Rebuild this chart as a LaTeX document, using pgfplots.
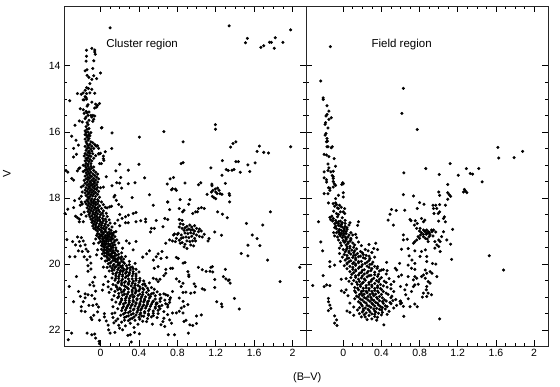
\documentclass[border=0pt]{standalone}
\usepackage{fontspec}
\setmainfont{Liberation Sans}
\usepackage{pgfplots}
\pgfplotsset{compat=1.18}
\pgfplotsset{cmd/.style={
  scale only axis, width=242pt, height=340pt,
  y dir=reverse, ymin=12.19, ymax=22.48,
  xtick={0,0.4,0.8,1.2,1.6,2}, ytick={14,16,18,20,22},
  minor x tick num=3, minor y tick num=3,
  tick align=inside, xtick pos=both, ytick pos=both,
  major tick length=6pt, minor tick length=3pt,
  tick style={black,line width=0.7pt}, axis line style={line width=0.8pt,black!85},
  /pgf/number format/assume math mode=true,
  tick label style={font=\fontsize{10.5}{12}\selectfont},
  label style={font=\fontsize{11}{13}\selectfont},
  clip=false,
}}
\begin{document}
\begin{tikzpicture}[x=1pt,y=1pt]
\path[use as bounding box] (0,0) rectangle (560,386);
\begin{axis}[cmd, at={(64pt,40pt)}, anchor=south west, xmin=-0.38, xmax=2.14,
  ylabel={V}, ylabel style={at={(axis description cs:-0.236,0.505)},anchor=center},
  xlabel={(B--V)}, xlabel style={at={(axis description cs:1.005,-0.094)},anchor=center}]
\addplot[only marks,mark=*,mark size=1.35pt,black] coordinates {
(.10,12.85)(1.34,12.79)(1.98,12.91)(1.53,13.17)(1.51,13.30)(1.82,13.15)(1.76,13.29)(1.78,13.29)(1.90,13.29)(1.70,13.39)(1.67,13.44)(1.81,13.47)
(-.09,13.47)(-.145,13.53)(-.06,13.52)(-.055,13.65)(-.06,13.58)(-.145,13.71)(-.15,13.86)(-.07,13.85)(-.08,14.08)(-.16,14.15)(-.14,14.12)(0,14.22)(-.14,14.29)(-.12,14.35)(-.07,14.3)(-.04,14.39)(-.09,14.41)(-.11,14.54)(-.145,14.66)(-.16,14.74)(-.125,14.69)(-.09,14.71)(-.24,14.84)(-.2,14.86)(-.18,14.82)(-.145,14.84)(-.11,14.82)(-.06,14.83)(-.16,14.93)(-.18,15.03)(-.145,15.01)(-.09,15.1)(-.32,15.06)(-.15,14.96)(-.17,15.03)(-.13,15.18)(-.14,15.22)(-.05,15.16)(-.01,15.14)(-.03,15.2)(-.04,15.25)(-.06,15.28)(-.21,15.3)(-.18,15.33)(-.15,15.38)(-.14,15.42)(-.17,15.44)(-.12,15.4)
(-.1,15.5)(-.08,15.5)(-.06,15.52)(-.09,15.55)(-.13,15.5)(-.15,15.55)(-.16,15.6)(-.22,15.67)(-.19,15.7)(-.07,15.62)(-.08,15.68)(-.12,15.65)(-.14,15.72)(-.13,15.78)(-.15,15.84)(-.265,15.8)(.015,15.87)(-.14,15.92)(-.12,15.9)(-.16,15.97)(-.13,16.0)(-.15,16.02)(-.1,16.02)(.12,16.03)(-.12,16.07)(-.16,16.08)(-.13,16.12)
(-.15,16.1)(-.11,16.12)(-.14,16.16)(-.12,16.2)(-.16,16.22)(-.13,16.25)(-.15,16.3)(-.1,16.3)(-.08,16.33)(-.14,16.36)(-.11,16.38)(-.06,16.38)(-.13,16.42)(-.16,16.44)(-.09,16.44)(-.05,16.42)(-.03,16.42)(-.12,16.48)(-.14,16.5)(-.1,16.52)(-.07,16.5)(-.02,16.5)(-.15,16.56)(-.12,16.58)(-.09,16.58)(-.13,16.62)(-.16,16.66)(-.11,16.65)(-.08,16.66)(-.14,16.7)(-.12,16.72)(-.17,16.73)(-.1,16.74)(-.13,16.78)(-.15,16.8)(-.07,16.8)(-.11,16.83)(-.14,16.86)(-.09,16.88)(-.16,16.88)(-.12,16.9)(-.15,16.95)(-.1,16.96)(-.13,16.98)(-.05,16.72)(-.02,16.66)(0,16.65)
(.405,16.16)(.66,15.99)(1.197,15.78)(1.197,15.92)(.86,16.3)(.117,16.5)(.4,16.98)(.2,16.98)(.16,17.18)(.29,17.16)(.06,17.36)(.46,17.39)(.21,17.38)(.17,17.54)(.2,17.55)(.29,17.57)(.36,17.54)(.12,17.63)(.22,17.7)(.86,16.93)(.84,16.96)(1.15,17.09)(1.27,16.87)(1.41,16.3)(1.38,16.35)(1.355,16.46)(1.655,16.43)(1.63,16.59)(1.70,16.62)(1.75,16.64)(1.98,16.45)(1.41,16.9)(1.435,16.9)(1.535,17.0)(1.61,16.94)(1.555,17.2)(1.31,17.14)(1.33,17.17)(1.37,17.16)(1.39,17.14)(1.455,17.22)(1.265,17.31)(1.30,17.56)(1.16,17.58)(1.16,17.63)(1.045,17.54)(1.02,17.6)(.76,17.38)(.725,17.42)(.695,17.58)(.88,17.55)(.75,17.72)(.78,17.73)(1.195,17.73)(1.22,17.7)
(-.36,17.17)(-.34,17.22)(-.3,17.41)(-.28,17.46)(-.2,17.67)(-.24,17.18)(-.215,17.09)(-.225,17.11)(-.18,17.01)(-.18,17.2)(-.25,16.68)(-.28,16.5)(-.255,16.25)(-.3,16.13)(-.23,16.4)(-.28,16.76)(.01,15.88)(.03,16.73)(.03,16.81)(.035,16.86)(.01,16.96)(-.01,16.96)(-.015,16.67)(-.04,16.43)(.05,16.6)
(-.16,17.02)(-.13,17.03)(-.1,17.04)(-.07,17.06)(-.15,17.08)(-.12,17.1)(-.09,17.1)(-.14,17.14)(-.11,17.15)(-.16,17.16)(-.07,17.17)(-.13,17.2)(-.1,17.22)(-.05,17.22)(-.15,17.24)(-.12,17.26)(-.08,17.27)(-.03,17.28)(-.14,17.3)(-.11,17.32)(-.06,17.32)(-.16,17.34)(-.09,17.35)(-.13,17.37)(-.04,17.37)(-.11,17.4)(-.07,17.41)(-.15,17.42)(-.02,17.42)(-.13,17.45)(-.09,17.46)(-.05,17.46)(-.17,17.47)(-.11,17.5)(-.07,17.5)(-.14,17.52)(-.03,17.52)(-.1,17.54)(-.06,17.55)(-.16,17.56)(-.12,17.58)(-.08,17.59)(-.04,17.6)(-.14,17.61)(-.1,17.62)(-.06,17.64)(-.18,17.63)(-.12,17.66)(-.08,17.67)(-.15,17.69)(-.03,17.68)(0,17.69)(.03,17.67)(-.11,17.7)(-.06,17.71)(-.13,17.73)(-.09,17.75)(-.16,17.76)(-.04,17.75)(-.11,17.78)(-.07,17.79)(-.14,17.8)(-.02,17.8)(-.09,17.83)(-.12,17.84)(-.05,17.84)(-.16,17.85)(-.19,17.82)(-.07,17.88)(-.13,17.89)(-.1,17.9)(-.03,17.89)(-.15,17.93)(-.08,17.94)(-.11,17.96)(-.05,17.95)(-.2,17.95)(-.13,17.98)(-.01,17.98)
(.33,17.99)(.51,17.9)(.55,18.22)(.70,18.12)(.37,18.44)(.34,18.47)(.29,18.52)(.26,18.57)(.15,17.92)(.14,17.97)(.165,18.07)(.19,18.2)(.22,18.27)(.115,18.25)(.07,18.3)(.095,18.27)(.2,18.5)(.47,18.64)(.42,18.69)(.47,18.72)(.58,18.68)(.37,18.72)(.29,18.75)(.26,18.75)(.18,18.67)(.15,18.77)(.2,18.84)(.225,18.62)(.52,19.03)(.56,18.92)(.65,18.87)(.70,18.65)(.53,18.92)
(-.34,18.34)(-.28,18.29)(-.37,18.47)(-.22,18.02)(-.27,18.08)(-.2,18.12)(-.21,18.22)(-.19,18.18)(-.26,18.55)(-.24,18.6)(-.22,18.64)(-.2,18.5)(-.17,18.43)(-.15,18.55)(-.22,18.72)(-.18,18.72)
(-.12,18.02)(-.09,18.03)(-.06,18.04)(-.03,18.05)(-.14,18.06)(-.1,18.08)(-.07,18.09)(-.02,18.1)(-.13,18.11)(-.16,18.12)(-.09,18.13)(-.05,18.13)(.01,18.12)(-.12,18.16)(-.07,18.17)(-.03,18.18)(-.15,18.18)(-.1,18.2)(-.05,18.21)(.03,18.2)(-.13,18.23)(-.08,18.24)(-.01,18.24)(-.11,18.27)(-.06,18.28)(-.03,18.29)(.05,18.28)(-.14,18.3)(-.09,18.31)(-.05,18.32)(.01,18.32)(-.12,18.34)(-.07,18.36)(-.02,18.36)(-.1,18.38)(-.04,18.39)(.03,18.39)(-.13,18.41)(-.08,18.42)(-.01,18.42)(-.05,18.44)(-.11,18.45)(.02,18.46)(-.08,18.48)(-.03,18.48)(.06,18.46)(-.12,18.5)(-.06,18.51)(0,18.51)(-.09,18.54)(-.04,18.55)(.03,18.54)(-.11,18.57)(-.06,18.58)(-.01,18.58)(.07,18.56)(-.08,18.61)(-.03,18.61)(.02,18.62)(-.1,18.64)(-.05,18.65)(.05,18.64)(-.01,18.66)(-.08,18.68)(-.03,18.69)(.03,18.69)(.09,18.66)(-.06,18.72)(0,18.72)(-.09,18.74)(.06,18.72)(-.04,18.76)(.02,18.76)(-.07,18.79)(-.01,18.79)(.05,18.79)(.1,18.76)(-.05,18.82)(.01,18.83)(-.08,18.85)(-.02,18.86)(.04,18.85)(.08,18.83)(-.05,18.88)(.01,18.89)(-.03,18.91)(.06,18.9)(.12,18.88)(-.07,18.92)(.03,18.93)(-.01,18.95)(.09,18.94)(-.05,18.96)(.05,18.97)(.01,18.99)(-.03,19.0)(.11,18.98)
(-.35,19.26)(-.32,19.78)(-.265,19.78)(-.25,20.38)(-.325,20.68)(-.28,21.14)(-.23,20.83)(-.21,20.98)(-.18,21.14)(-.2,21.29)(-.16,21.44)(-.2,21.42)(-.09,21.68)(-.01,21.7)(-.3,22.09)(-.335,22.29)(-.14,22.09)(-.09,22.14)(-.06,22.12)(-.05,22.24)(-.015,22.34)(-.01,22.41)(.085,21.99)(.1,22.09)(.15,22.07)(.23,21.99)(.285,22.16)(.31,22.14)(.355,22.07)(.405,22.11)(.32,22.36)(.705,22.14)(.77,22.14)(.915,22.09)
(-.29,19.32)(-.24,19.18)(-.2,19.2)(-.22,19.32)(-.18,19.3)(-.26,19.42)(-.21,19.45)(-.16,19.42)(-.23,19.6)(-.19,19.62)(-.15,19.55)(-.13,19.62)(-.11,19.78)(-.17,19.78)(-.13,20.05)(-.1,20.15)(-.13,20.22)(-.1,19.97)(-.14,19.87)(-.06,20.4)(-.08,20.55)(-.11,20.63)(-.07,20.66)(-.05,20.82)(-.16,20.9)(-.13,20.93)(-.09,20.95)(-.06,21.05)(-.04,21.22)(-.08,21.25)(-.12,21.25)(-.02,21.3)(-.03,21.45)(-.07,21.55)(-.1,21.62)(.04,21.6)(.06,21.72)(.08,21.85)(.13,21.62)(.16,21.72)(.19,21.85)(.04,21.5)(.12,21.5)(-.16,21.02)
(2.075,20.1)(1.87,20.53)(1.77,18.42)(1.52,18.77)(1.69,18.82)(1.58,19.12)(1.63,19.23)(1.535,19.43)(1.66,19.44)(1.465,19.68)(1.535,19.75)(1.74,19.88)(1.30,20.16)(1.28,20.38)(1.305,20.45)(1.33,20.5)(1.35,20.58)(1.34,20.48)(1.395,21.04)(1.445,21.36)(1.21,21.14)(1.26,21.21)(1.265,21.29)(1.19,20.71)(1.085,20.78)(1.06,20.75)(1.15,20.1)(1.165,20.08)(1.14,20.22)(1.17,20.24)(1.19,20.47)(1.1,20.22)(1.06,20.17)(1.02,20.1)(.975,20.6)(.99,20.68)(1.05,21.54)(1.0,21.57)(.96,21.86)(.93,21.84)(1.0,21.8)
(1.11,17.89)(1.155,17.82)(1.17,17.77)(1.2,17.82)(1.215,17.87)(1.245,17.87)(1.265,17.89)(1.18,17.99)(1.2,18.02)(1.165,17.95)(1.235,17.77)(1.34,17.87)(1.345,17.92)(1.345,18.12)(1.22,18.42)(1.27,18.49)(1.32,18.6)(1.19,19.03)(1.26,19.13)(1.13,19.23)(1.12,19.3)(.83,18.05)(.93,18.05)(.92,18.19)(.74,17.75)(.79,17.77)(.70,18.12)(.72,18.35)(.67,18.62)(.82,18.32)(.87,18.37)(.855,18.42)(.96,18.47)(1.01,18.42)(1.05,18.29)(1.08,18.32)(1.02,18.32)(.99,18.42)
(.82,18.65)(.85,18.68)(.83,18.78)(.86,18.8)(.82,18.88)(.85,18.92)(.88,18.9)(.9,18.86)(.93,18.82)(.95,18.88)(.98,18.84)(1.0,18.92)(1.03,18.94)(.87,18.98)(.9,18.97)(.92,18.94)(.94,18.97)(.96,18.96)(.98,19.0)(1.02,19.02)(1.05,19.0)(.8,19.1)(.76,19.12)(.79,19.22)(.84,19.12)(.88,19.06)(.91,19.08)(.94,19.05)(.97,19.08)(1.0,19.12)(.86,19.2)(.89,19.18)(.92,19.2)(.95,19.16)(.98,19.22)(1.03,19.16)(.9,19.3)(.93,19.32)(.96,19.3)(.99,19.3)(.85,19.35)(.88,19.4)(.94,19.42)(.97,19.45)(.87,19.48)(.9,19.53)(.82,19.28)(.75,19.3)(1.06,19.18)(1.08,19.1)
(.37,19.32)(.27,19.3)(.3,19.37)(.23,19.52)(.34,19.57)(.51,19.6)(.48,19.69)(.44,19.79)(.6,19.69)(.64,19.62)(.68,19.37)(.72,19.27)(.77,19.09)(.81,19.07)(.84,19.22)(.78,19.32)(.83,19.37)(.55,19.88)(.58,19.78)(.63,19.83)(.69,19.8)(.79,19.8)(.81,19.83)(.86,19.97)(.88,19.95)(.73,20.13)(.75,20.13)(.68,20.16)(.56,20.13)(.6,20.08)(.68,20.28)(.66,20.35)(.55,20.43)(.58,20.46)(.6,20.53)(.62,20.46)(.79,20.45)(.82,20.53)(.86,20.58)(.91,20.23)(.92,20.33)(.92,20.38)(.84,20.68)(.86,20.86)(.89,20.85)(.94,20.88)(.98,20.86)(.75,20.83)(.68,20.93)(.72,21.08)(.63,21.03)(.7,21.23)(.58,21.18)(.61,21.28)(.82,21.03)(.86,21.13)(.84,21.33)(.87,21.28)(.91,21.23)(.82,21.43)(.86,21.48)(.79,21.48)(.75,21.48)(.7,21.53)(.72,21.69)(.74,21.79)(.66,21.64)(.65,21.74)(.67,21.89)(.63,21.84)(.54,21.82)(.48,21.74)(.87,21.74)(.89,21.7)
(.01,19.03)(.05,19.01)(.07,19.06)(.14,19.04)(-.03,19.07)(.03,19.09)(.1,19.08)(.16,19.02)(-.04,19.13)(.01,19.12)(.05,19.14)(.09,19.11)(.12,19.14)(.02,19.17)(.07,19.19)(-.02,19.18)(.11,19.2)(.15,19.17)(-.01,19.23)(.04,19.21)(.09,19.25)(.13,19.23)(-.05,19.24)(.03,19.28)(.06,19.26)(.17,19.27)(.11,19.3)(0,19.31)(.04,19.33)(.08,19.31)(.14,19.34)(-.02,19.36)(.02,19.38)(.06,19.37)(.1,19.4)(.19,19.36)(-.07,19.38)(.01,19.44)(.05,19.42)(.08,19.46)(.13,19.43)(.04,19.5)(.07,19.52)(.11,19.48)(.16,19.51)(.01,19.55)(.06,19.58)(.09,19.56)(.13,19.59)(.03,19.6)(-.03,19.57)(.08,19.64)(.12,19.63)(.18,19.61)(.02,19.69)(.06,19.67)(.1,19.7)(.15,19.68)(.22,19.66)(.04,19.75)(.09,19.74)(.13,19.77)(.17,19.73)(-.04,19.72)(.07,19.81)(.11,19.79)(.15,19.83)(.19,19.8)(.26,19.77)(.01,19.83)(.09,19.87)(.13,19.89)(.18,19.87)(.24,19.85)(.05,19.91)(.11,19.94)(.16,19.93)(.2,19.97)(.3,19.92)(.08,19.99)(.14,20.01)(.18,20.03)(.25,19.98)(.36,19.98)
(.1,20.07)(.16,20.08)(.21,20.06)(.27,20.05)(.33,20.09)(.03,20.09)(.12,20.13)(.19,20.12)(.24,20.14)(.31,20.11)(.14,20.18)(.21,20.19)(.27,20.17)(.37,20.16)(.09,20.21)(.17,20.25)(.23,20.23)(.3,20.26)(.13,20.29)(.2,20.31)(.26,20.28)(.34,20.29)(.4,20.24)(.16,20.36)(.23,20.37)(.29,20.34)(.37,20.36)(.05,20.38)(.12,20.42)(.19,20.44)(.26,20.41)(.33,20.45)(.41,20.43)(.15,20.49)(.22,20.5)(.3,20.52)(.37,20.49)(.45,20.51)(.08,20.53)(.18,20.57)(.25,20.56)(.33,20.58)(.4,20.55)(.51,20.57)(.03,20.62)(.13,20.62)(.22,20.63)(.29,20.61)(.36,20.65)(.44,20.62)(.08,20.69)(.17,20.7)(.26,20.68)(.34,20.72)(.41,20.69)(.49,20.73)(.11,20.76)(.21,20.77)(.29,20.75)(.37,20.79)(.45,20.77)(.56,20.76)(.02,20.79)(.15,20.83)(.24,20.82)(.33,20.84)(.4,20.81)(.48,20.86)(.59,20.84)(.09,20.86)(.19,20.89)(.28,20.91)(.36,20.88)(.44,20.92)(.53,20.9)(.66,20.9)(.14,20.96)(.23,20.94)(.31,20.97)(.39,20.95)(.47,20.99)(.57,20.96)(.7,20.95)
(.18,21.02)(.26,21.04)(.34,21.01)(.42,21.05)(.51,21.03)(.62,21.06)(.73,21.02)(.12,21.08)(.22,21.09)(.3,21.11)(.38,21.08)(.46,21.1)(.55,21.12)(.67,21.09)(.16,21.15)(.26,21.17)(.34,21.14)(.41,21.18)(.49,21.15)(.59,21.18)(.72,21.16)(.2,21.21)(.29,21.23)(.37,21.2)(.45,21.24)(.53,21.22)(.64,21.25)(.24,21.28)(.32,21.26)(.4,21.29)(.48,21.27)(.57,21.3)(.7,21.3)(.13,21.29)(.18,21.35)(.27,21.33)(.35,21.36)(.43,21.34)(.51,21.37)(.62,21.35)(.22,21.41)(.31,21.43)(.39,21.4)(.46,21.44)(.55,21.42)(.66,21.44)(.15,21.48)(.26,21.47)(.34,21.5)(.42,21.48)(.5,21.51)(.6,21.5)(.21,21.55)(.29,21.57)(.37,21.54)(.45,21.58)(.55,21.56)(.25,21.62)(.33,21.64)(.4,21.61)(.49,21.65)(.59,21.62)(.18,21.66)(.29,21.71)(.36,21.7)(.44,21.73)(.22,21.76)(.31,21.79)(.39,21.82)(.14,21.78)(.26,21.87)(.35,21.92)(.2,21.94)
(.03,19.05)(.09,19.03)(.12,19.07)(-.01,19.1)(.07,19.13)(.13,19.11)(0,19.16)(.05,19.19)(.09,19.17)(.02,19.24)(.07,19.23)(.11,19.26)(.15,19.29)(.02,19.33)(.06,19.3)(.12,19.37)(.04,19.4)(.08,19.39)(.03,19.47)(.1,19.45)(.15,19.42)(.06,19.49)(.13,19.5)(.04,19.56)(.11,19.54)(.16,19.58)(.07,19.61)(.1,19.6)(.14,19.65)(.04,19.66)(.08,19.71)(.12,19.68)(.19,19.7)(.06,19.76)(.11,19.75)(.15,19.75)(.22,19.78)(.09,19.84)(.13,19.82)(.17,19.85)(.21,19.84)(.07,19.89)(.15,19.88)(.22,19.91)(.1,19.97)(.18,19.95)(.24,19.95)(.13,20.05)(.19,20.02)(.23,20.05)(.3,20.02)(.07,20.1)(.15,20.11)(.22,20.1)(.28,20.12)(.34,20.14)(.18,20.17)(.24,20.19)(.31,20.18)(.12,20.2)(.2,20.26)(.27,20.24)(.34,20.23)(.16,20.3)(.23,20.32)(.3,20.3)(.37,20.3)(.19,20.38)(.27,20.37)(.33,20.36)(.16,20.43)(.23,20.46)(.29,20.45)(.37,20.44)(.19,20.53)(.26,20.53)(.34,20.52)(.41,20.5)(.22,20.58)(.29,20.58)(.36,20.6)(.46,20.6)(.16,20.65)(.25,20.66)(.32,20.66)(.39,20.65)(.47,20.66)(.2,20.73)(.28,20.72)(.36,20.73)(.44,20.73)(.53,20.71)(.18,20.78)(.25,20.78)(.33,20.79)(.41,20.76)(.5,20.8)(.22,20.85)(.29,20.85)(.37,20.84)(.44,20.85)(.55,20.88)(.25,20.91)(.33,20.92)(.41,20.91)(.5,20.93)(.62,20.92)(.19,20.98)(.27,20.99)(.35,20.98)(.43,20.99)(.52,20.98)(.22,21.05)(.3,21.04)(.38,21.05)(.46,21.06)(.57,21.06)(.26,21.1)(.34,21.1)(.42,21.12)(.5,21.12)(.62,21.13)(.21,21.15)(.3,21.16)(.37,21.17)(.45,21.15)(.54,21.16)(.24,21.21)(.33,21.22)(.41,21.23)(.49,21.21)(.58,21.22)(.68,21.2)(.28,21.27)(.36,21.27)(.44,21.28)(.52,21.28)(.61,21.28)(.23,21.33)(.31,21.33)(.39,21.34)(.47,21.33)(.57,21.34)(.26,21.39)(.34,21.39)(.42,21.39)(.5,21.41)(.6,21.4)(.29,21.47)(.38,21.46)(.46,21.48)(.55,21.49)(.24,21.51)(.32,21.53)(.41,21.52)(.5,21.55)(.27,21.59)(.35,21.6)(.43,21.57)(.53,21.6)(.31,21.66)(.41,21.67)(.25,21.7)
};
\node[anchor=west,font=\fontsize{11.5}{13}\selectfont] at (axis cs:0.024,13.37) {Cluster region};
\end{axis}
\begin{axis}[cmd, at={(306pt,40pt)}, anchor=south west, xmin=-0.39, xmax=2.145, yticklabels={}]
\addplot[only marks,mark=*,mark size=1.35pt,black] coordinates {
(-.135,13.42)(-.235,14.46)(.63,14.68)(.615,15.44)(.775,15.93)(-.21,14.97)(-.21,15.02)(-.17,15.21)(-.15,15.37)(-.17,15.47)(-.18,15.52)(-.125,15.57)(-.15,15.62)(-.185,15.72)(-.19,15.77)(-.16,15.88)(-.18,16.05)(-.19,16.1)(-.17,16.2)(-.175,16.3)(-.165,16.28)(-.17,16.45)(-.16,16.45)(-.115,16.45)(-.125,16.48)(-.2,16.68)(-.175,16.7)(-.15,16.75)(-.095,16.81)(-.16,16.97)(-.08,17.04)(-.15,17.09)(-.2,17.21)(-.16,17.17)(-.13,17.21)(-.105,17.19)(-.115,17.32)(-.105,17.36)(-.105,17.41)(-.2,17.39)(-.175,17.45)(-.095,17.57)(-.005,17.54)(-.015,17.59)(-.155,17.69)(-.14,17.7)
(1.62,16.47)(1.63,16.79)(1.79,16.78)(1.88,16.59)(1.12,16.96)(.865,17.11)(.635,17.24)(1.005,17.29)(1.205,17.31)(1.29,17.11)(1.33,17.26)(1.355,17.28)(1.42,17.11)(1.455,17.51)(1.095,17.59)(1.27,17.74)(1.26,17.82)(1.28,17.79)(1.295,17.84)
(1.0,17.82)(1.01,17.92)(1.095,17.84)(1.11,17.9)(1.125,17.95)(1.095,18.04)(1.07,18.22)(1.01,18.2)(.97,18.22)(.94,18.22)(.98,18.32)(.945,18.32)(1.01,18.42)(.95,18.47)(.995,18.47)(1.06,18.57)(1.07,18.72)(1.05,18.62)(1.0,18.7)
(.63,17.9)(.735,17.94)(.8,18.14)(.845,18.19)(.775,18.32)(.505,18.35)(.555,18.38)(.49,18.49)(.47,18.67)(.525,18.82)(.645,18.37)(.7,18.65)(.71,18.69)(.755,18.69)(.745,18.82)(.775,18.77)(.82,18.62)(.84,18.72)(.855,18.67)(.77,18.92)(.805,18.92)(.84,18.97)(.875,18.97)(.89,19.02)(.925,18.97)(.945,18.97)(.855,19.02)(.875,19.07)(.91,19.12)(.84,19.17)(.785,19.17)(.75,19.32)(.735,19.37)(.89,19.32)(.96,19.32)(1.0,19.27)(1.015,19.32)(.98,19.42)(1.0,19.47)(1.05,19.02)(1.03,19.17)(1.085,19.27)(1.145,18.95)(1.125,19.4)(.96,19.52)(1.015,19.62)(.86,19.57)(.82,19.62)(.805,19.77)(.75,19.6)(.68,19.53)(.61,19.55)(.63,19.27)(.67,19.25)(.63,19.12)(.69,19.75)(.72,19.88)(.75,19.98)(.875,19.77)(.875,19.92)(.935,19.98)(.97,20.0)(.715,20.13)(.68,20.03)(.75,20.16)(1.135,19.86)(1.53,19.75)(1.68,20.18)(1.01,21.66)(.425,21.84)(.635,21.58)
(.86,20.18)(.91,20.23)(.875,20.28)(.84,20.33)(.82,20.38)(.86,20.43)(.93,20.28)(.98,20.38)(.75,20.38)(.77,20.43)(.735,20.48)(.68,20.38)(.61,20.33)(.58,20.38)(.665,20.63)(.735,20.68)(.75,20.63)(.785,20.61)(.89,20.53)(.91,20.58)(.875,20.68)(.87,20.78)(.89,20.88)(.84,20.88)(.83,21.0)(.875,20.98)(.925,20.93)(.715,20.83)(.655,20.93)(.68,21.05)(.7,21.29)(.75,21.21)(.775,21.29)(.61,21.18)(.595,21.13)(.645,20.78)(.56,20.18)(.545,20.13)(.59,19.98)(.53,20.53)(.6,20.68)(.455,19.95)(.46,20.2)(.4,20.18)(.355,20.13)
(-.26,18.72)(-.235,19.33)(-.215,19.6)(-.32,20.65)(-.21,20.35)(-.2,20.68)(-.175,20.63)(-.14,20.65)(-.155,21.04)(-.155,21.14)(-.14,21.24)(-.13,21.34)(-.155,21.41)(-.09,21.57)(-.07,21.69)(-.09,21.79)(-.065,21.86)(-.14,19.93)(-.14,20.08)(-.09,20.03)
(-.2,17.87)(-.16,17.87)(-.14,17.77)(-.105,17.67)(-.08,17.62)(-.175,17.52)(-.105,17.5)(0,17.57)(0,17.84)(-.05,17.92)(0,17.97)(-.08,18.02)(-.155,18.15)(-.105,18.17)(-.04,18.22)(-.05,18.32)(.015,18.32)(0,18.42)(.015,18.47)(-.14,18.59)(-.105,18.62)
(-.08,18.15)(-.09,18.25)(-.06,18.3)(-.03,18.42)(-.05,18.5)(-.11,18.7)(-.09,18.78)(-.08,18.68)(-.07,18.75)(-.05,18.72)(-.03,18.7)(-.01,18.75)(.02,18.68)(.07,18.75)(.16,18.72)(.15,18.83)(-.08,18.85)(-.05,18.83)(-.03,18.85)(-.01,18.88)(.02,18.86)(.06,18.82)(-.07,18.93)(-.04,18.95)(-.02,18.98)(.01,18.97)(.04,18.95)(.13,19.1)(.14,19.2)(.1,19.12)(-.1,19.05)(-.07,19.05)(-.04,19.05)(-.02,19.08)(.01,19.08)(.03,19.08)(-.09,19.15)(-.06,19.18)(-.03,19.15)(-.01,19.2)(.02,19.18)(.05,19.18)(.08,19.22)
(-.05,19.27)(0,19.29)(.03,19.26)(.07,19.31)(-.03,19.36)(.01,19.34)(.05,19.38)(.1,19.36)(.16,19.33)(-.02,19.44)(.03,19.42)(.07,19.46)(.11,19.49)(.19,19.44)(.27,19.41)(.34,19.37)(-.04,19.52)(0,19.56)(.04,19.53)(.09,19.58)(.14,19.54)(.23,19.56)(.32,19.53)(.36,19.56)(.02,19.63)(.06,19.61)(.11,19.66)(.18,19.62)(.26,19.6)(.3,19.65)(-.04,19.68)(.01,19.71)(.04,19.74)(.08,19.7)(.13,19.73)(.21,19.71)(.27,19.76)(.33,19.79)(-.01,19.79)(.06,19.82)(.1,19.8)(.16,19.78)(.23,19.83)(.02,19.88)(.08,19.9)(.13,19.87)(.19,19.92)(.27,19.89)(.31,19.94)(-.03,19.92)(.04,19.97)(.1,19.99)(.16,19.96)(.23,19.98)(.28,20.01)
(.01,20.05)(.07,20.07)(.13,20.04)(.19,20.08)(.25,20.06)(.36,20.08)(.04,20.14)(.1,20.16)(.16,20.13)(.22,20.17)(.3,20.14)(.42,20.17)(.07,20.23)(.13,20.21)(.19,20.25)(.26,20.22)(.33,20.25)(.09,20.31)(.16,20.33)(.22,20.3)(.29,20.34)(.37,20.31)(.45,20.3)(-.02,20.46)(.03,20.44)(.08,20.41)(.13,20.4)(.19,20.42)(.25,20.39)(.32,20.43)(.4,20.41)(.48,20.44)(.06,20.52)(.11,20.5)(.17,20.53)(.23,20.49)(.29,20.52)(.35,20.5)(.43,20.52)(.09,20.6)(.15,20.62)(.2,20.58)(.27,20.61)(.33,20.59)(.39,20.62)(.5,20.62)(.12,20.71)(.18,20.68)(.24,20.72)(.3,20.69)(.36,20.71)(.46,20.7)(.03,20.78)(-.02,20.81)(.16,20.78)(.21,20.81)(.27,20.79)(.33,20.8)(.4,20.77)(.53,20.83)(.01,20.86)(.13,20.86)(.19,20.88)(.25,20.87)(.31,20.89)(.37,20.86)(.45,20.88)(.05,20.96)(.14,20.97)(.2,20.95)(.26,20.98)(.32,20.96)(.38,20.98)(.51,20.97)(.6,21.12)
(.12,21.05)(.18,21.06)(.24,21.04)(.3,21.07)(.36,21.05)(.43,21.08)(.55,21.07)(.16,21.14)(.22,21.15)(.28,21.13)(.34,21.16)(.41,21.14)(.49,21.16)(.07,21.18)(.11,21.3)(.19,21.23)(.25,21.25)(.31,21.22)(.37,21.24)(.44,21.26)(.56,21.25)(.63,21.28)(.17,21.32)(.23,21.33)(.29,21.31)(.35,21.34)(.41,21.32)(.53,21.33)(.04,21.42)(.07,21.46)(.15,21.39)(.21,21.41)(.27,21.4)(.33,21.42)(.4,21.39)(.48,21.43)(.17,21.5)(.24,21.48)(.3,21.51)(.37,21.49)(.46,21.52)(.19,21.6)(.27,21.56)(.33,21.59)(.25,21.68)(.3,21.66)(.35,21.7)(.11,21.55)
(-.07,18.2)(-.02,18.28)(-.1,18.4)(-.07,18.47)(-.12,18.55)(-.06,18.57)(-.01,18.6)(-.13,18.66)(-.05,18.78)(-.02,18.8)(.02,18.77)(-.09,18.9)(.01,18.92)(.04,18.9)(-.05,19.0)(0,19.02)(.03,19.02)(.08,19.05)(-.04,19.1)(0,19.13)(.06,19.12)(.03,19.22)(.08,19.27)(.05,19.33)(.02,19.32)(.12,19.42)(.04,19.48)(.07,19.52)(.12,19.6)(.03,19.58)(.06,19.66)(.15,19.68)(.2,19.66)(.11,19.74)(.18,19.76)(.24,19.74)(.04,19.83)(.13,19.82)(.21,19.81)(.28,19.83)(.06,19.93)(.11,19.95)(.16,19.92)(.25,19.94)(.04,20.0)(.13,20.0)(.2,20.02)(.3,20.0)(.1,20.1)(.17,20.09)(.27,20.1)(.33,20.07)(.13,20.18)(.2,20.19)(.29,20.2)(.38,20.21)(.11,20.26)(.17,20.28)(.25,20.27)(.33,20.32)(.13,20.36)(.2,20.36)(.27,20.35)(.36,20.37)(.16,20.46)(.22,20.45)(.3,20.47)(.38,20.46)(.14,20.55)(.21,20.55)(.27,20.56)(.37,20.54)(.45,20.56)(.18,20.63)(.24,20.65)(.3,20.64)(.36,20.66)(.42,20.66)(.15,20.73)(.21,20.73)(.27,20.74)(.33,20.74)(.39,20.74)(.5,20.75)(.12,20.81)(.19,20.83)(.24,20.83)(.3,20.83)(.36,20.82)(.42,20.83)(.17,20.92)(.22,20.91)(.28,20.92)(.34,20.91)(.4,20.92)(.47,20.92)(.16,21.0)(.22,21.01)(.29,21.01)(.35,21.01)(.41,21.02)(.5,21.02)(.2,21.09)(.26,21.09)(.32,21.1)(.38,21.11)(.45,21.12)(.52,21.11)(.18,21.18)(.24,21.18)(.3,21.18)(.36,21.19)(.42,21.19)(.5,21.2)(.6,21.2)(.2,21.27)(.27,21.27)(.33,21.27)(.39,21.28)(.46,21.29)(.21,21.36)(.26,21.37)(.32,21.36)(.38,21.37)(.44,21.36)(.2,21.45)(.28,21.45)(.34,21.45)(.41,21.46)(.22,21.53)(.33,21.52)(.4,21.54)(.23,21.6)(.36,21.61)
(.8,19.0)(.86,19.0)(.9,19.04)(.82,19.05)(.84,19.1)(.9,19.07)(.87,19.1)(.93,19.02)(.97,19.03)(.81,19.12)(.8,19.22)(.86,19.22)(.77,19.27)(.94,19.15)(.9,19.17)(.88,19.24)
};
\node[anchor=west,font=\fontsize{11.5}{13}\selectfont] at (axis cs:0.26,13.37) {Field region};
\end{axis}
\end{tikzpicture}
\end{document}
